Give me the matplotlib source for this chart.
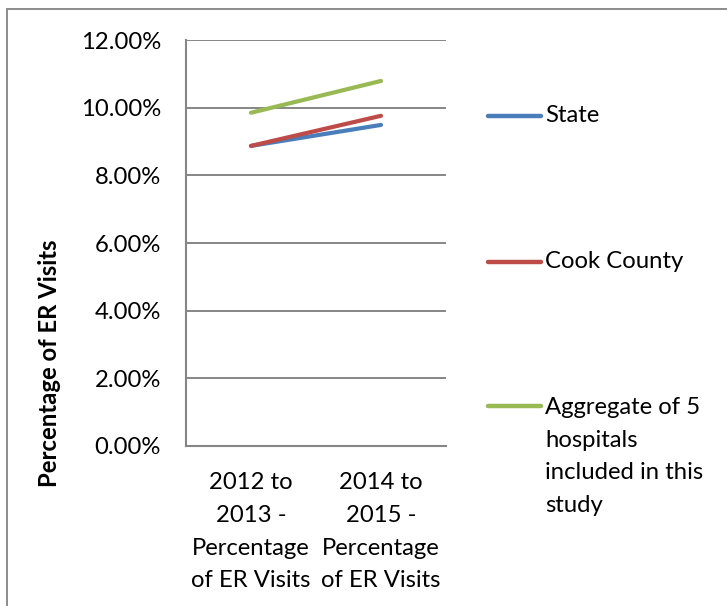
import matplotlib
matplotlib.use("Agg")
import matplotlib.pyplot as plt
from matplotlib.lines import Line2D
from matplotlib.patches import Rectangle
from matplotlib.ticker import FuncFormatter, MultipleLocator

# Data
categories = ["2012 to\n2013 -\nPercentage\nof ER Visits",
              "2014 to\n2015 -\nPercentage\nof ER Visits"]
series_names = ["State", "Cook County",
                "Aggregate of 5\nhospitals\nincluded in this\nstudy"]
state = [8.87, 9.49]
cook_county = [8.87, 9.76]
aggregate = [9.85, 10.79]
colors = ["#4A7EBB", "#BE4B48", "#98B954"]

W, H = 727, 606
plt.rcParams["font.family"] = ["Lato", "DejaVu Sans"]
FS = 17.2
LS = 1.68

fig = plt.figure(figsize=(W / 100, H / 100), dpi=100)

def fx(px):
    return px / W

def fy(py):
    return 1 - py / H

# Plot area in pixel coordinates
left, right, top, bottom = 186, 446, 40, 446
ax = fig.add_axes([fx(left), fy(bottom), fx(right) - fx(left), (bottom - top) / H])

xs = [0, 1]
for vals, c in zip([state, cook_county, aggregate], colors):
    ax.plot(xs, vals, color=c, lw=3.0, solid_capstyle="round")

ax.set_xlim(-0.5, 1.5)
ax.set_ylim(0, 12)
ax.yaxis.set_major_locator(MultipleLocator(2))
ax.yaxis.set_major_formatter(FuncFormatter(lambda v, p: f"{v:.2f}%"))
ax.set_xticks(xs)
ax.set_xticklabels(categories, fontsize=FS, linespacing=LS)
ax.tick_params(axis="y", length=0, pad=18, labelsize=FS)
ax.tick_params(axis="x", length=0, pad=19)
ax.grid(axis="y", color="#868686", lw=1.4)
ax.set_axisbelow(True)
for s in ["top", "right"]:
    ax.spines[s].set_visible(False)
for s in ["left", "bottom"]:
    ax.spines[s].set_color("#868686")
    ax.spines[s].set_linewidth(1.5)

fig.text(fx(50), fy(363), "Percentage of ER Visits", rotation=90,
         ha="center", va="center", fontsize=FS, fontweight="bold")

# Legend drawn beside the plot
legend_rows = [116, 262, 406]
for name, c, py in zip(series_names, colors, legend_rows):
    fig.add_artist(Line2D([fx(488), fx(541)], [fy(py), fy(py)], color=c,
                          lw=3.2, solid_capstyle="round",
                          transform=fig.transFigure))
    if "\n" in name:
        fig.text(fx(545), fy(py - 9), name, ha="left", va="top",
                 fontsize=FS, linespacing=LS)
    else:
        fig.text(fx(545), fy(py), name, ha="left", va="center", fontsize=FS)

# Chart border
fig.add_artist(Rectangle((fx(7), fy(H + 20)), 1.2, fy(9) - fy(H + 20),
                         transform=fig.transFigure, fill=False,
                         edgecolor="#8C8C8C", lw=1.4))

fig.savefig("out.png", dpi=100)
